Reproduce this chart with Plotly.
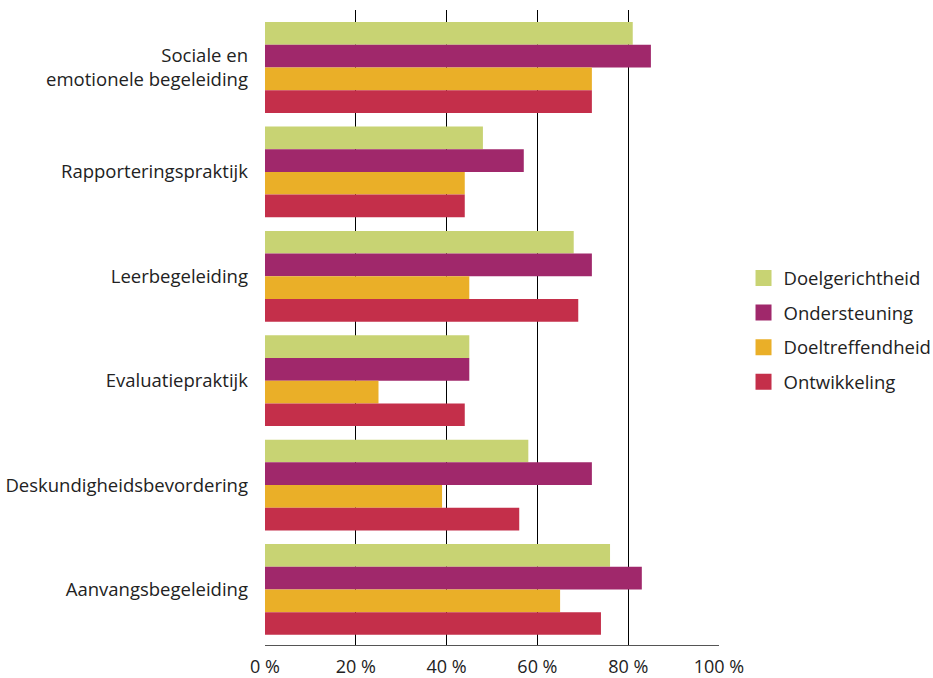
import plotly.graph_objects as go

# Categories, top to bottom
categories = [
    "Sociale en<br>emotionele begeleiding",
    "Rapporteringspraktijk",
    "Leerbegeleiding",
    "Evaluatiepraktijk",
    "Deskundigheidsbevordering",
    "Aanvangsbegeleiding",
]

series_names = ["Doelgerichtheid", "Ondersteuning", "Doeltreffendheid", "Ontwikkeling"]
doelgerichtheid = [81, 48, 68, 45, 58, 76]
ondersteuning = [85, 57, 72, 45, 72, 83]
doeltreffendheid = [72, 44, 45, 25, 39, 65]
ontwikkeling = [72, 44, 69, 44, 56, 74]
series_values = [doelgerichtheid, ondersteuning, doeltreffendheid, ontwikkeling]
series_colors = ["#C8D373", "#A0286B", "#EAAF28", "#C42F4A"]

tick_vals = [0, 20, 40, 60, 80, 100]
tick_text = ["0 %", "20 %", "40 %", "60 %", "80 %", "100 %"]

FONT = "Open Sans"
TEXT_COLOR = "#222222"

fig = go.Figure()

for name, vals, col in zip(series_names, series_values, series_colors):
    fig.add_trace(go.Bar(
        y=categories, x=vals, name=name, orientation="h",
        marker=dict(color=col, line=dict(width=0)),
        showlegend=False, hoverinfo="x+name",
    ))

# Legend entries with larger square swatches
for i, (name, col) in enumerate(zip(series_names, series_colors)):
    fig.add_trace(go.Scatter(
        x=[None], y=[None], mode="markers", name=name,
        marker=dict(symbol="square", size=18, color=col),
        legendgroup=f"g{i}", showlegend=True,
    ))

fig.update_layout(
    width=933, height=678,
    margin=dict(l=265, r=214, t=10, b=33, autoexpand=False),
    paper_bgcolor="white", plot_bgcolor="white",
    barmode="group", bargap=0.13, bargroupgap=0,
    font=dict(family=FONT, size=18.5, color=TEXT_COLOR),
    legend=dict(
        x=1.054, y=0.496, xanchor="left", yanchor="middle",
        font=dict(family=FONT, size=18.5, color=TEXT_COLOR),
        tracegroupgap=7.5, bgcolor="rgba(0,0,0,0)",
    ),
    xaxis=dict(
        range=[0, 100], tickvals=tick_vals, ticktext=tick_text,
        tickfont=dict(size=18),
        showgrid=True, gridcolor="#000000", gridwidth=1,
        zeroline=False, showline=True, linecolor="#555555", linewidth=1,
        ticks="", ticklabelstandoff=5, fixedrange=True, automargin=False,
    ),
    yaxis=dict(
        type="category", categoryorder="array", categoryarray=categories,
        range=[5.532, -0.551], showgrid=False, zeroline=False,
        showline=False, ticks="", ticklabelstandoff=16, fixedrange=True,
        automargin=False,
    ),
)

fig.write_html("out.html")
